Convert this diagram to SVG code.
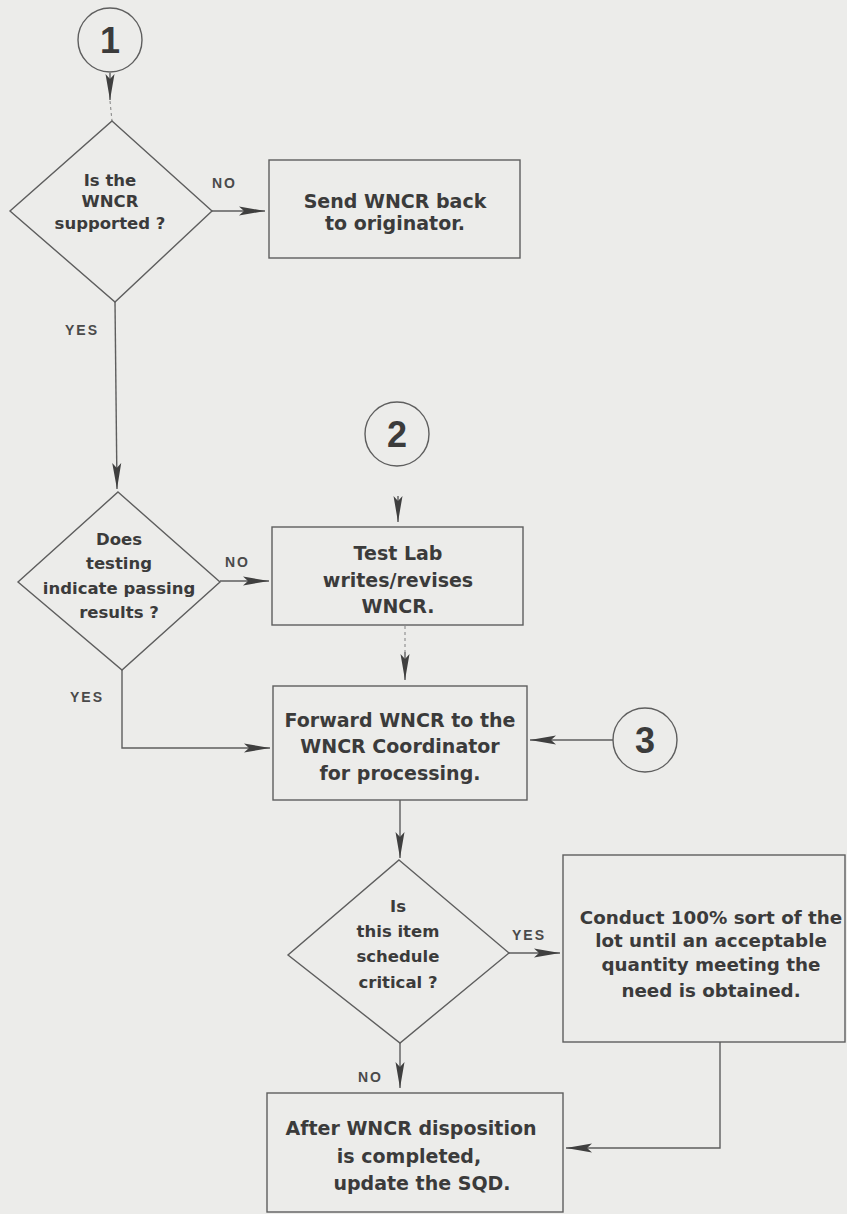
<svg xmlns="http://www.w3.org/2000/svg" width="847" height="1214" viewBox="0 0 847 1214">
<style>
.bg{fill:#ececea}
.shape{fill:none;stroke:#5e5e5e;stroke-width:1.4}
.conn{fill:none;stroke:#5e5e5e;stroke-width:1.4}
.faint{fill:none;stroke:#8a8a8a;stroke-width:1.1;stroke-dasharray:3 3}
.bt{font-family:"DejaVu Sans",sans-serif;font-weight:bold;font-size:19px;fill:#3b3b3b;text-anchor:middle}
.bts{font-size:18.3px}
.dt{font-family:"DejaVu Sans",sans-serif;font-weight:bold;font-size:16.5px;fill:#3b3b3b;text-anchor:middle}
.num{font-family:"Liberation Sans",Arial,sans-serif;font-weight:bold;font-size:36px;fill:#3b3b3b;text-anchor:middle}
.lbl{font-family:"Liberation Sans",Arial,sans-serif;font-weight:bold;font-size:14px;fill:#4a4a4a;letter-spacing:2px}
</style>
<defs>
<marker id="ah" viewBox="0 0 26 10" refX="26" refY="5" markerWidth="26" markerHeight="10" markerUnits="userSpaceOnUse" orient="auto">
<path d="M0,0.5 L26,5 L0,9.5 L5,5 Z" fill="#3f3f3f"/>
</marker>
</defs>
<rect class="bg" x="0" y="0" width="847" height="1214"/>

<g id="connectors">
<path class="conn" d="M110,73 L110,100" marker-end="url(#ah)"/>
<path class="faint" d="M110,101 L112,121"/>
<path class="conn" d="M212,211 L265,211" marker-end="url(#ah)"/>
<path class="conn" d="M115,302 L117,489" marker-end="url(#ah)"/>
<path class="conn" d="M220,581 L269,581" marker-end="url(#ah)"/>
<path class="conn" d="M398,496 L398,522" marker-end="url(#ah)"/>
<path class="faint" d="M405,626 L405,652"/>
<path class="conn" d="M405,652 L405,680" marker-end="url(#ah)"/>
<path class="conn" d="M122,670 L122,748 L270,748" marker-end="url(#ah)"/>
<path class="conn" d="M613,740 L530,740" marker-end="url(#ah)"/>
<path class="conn" d="M400,800 L400,858" marker-end="url(#ah)"/>
<path class="conn" d="M509,953 L560,953" marker-end="url(#ah)"/>
<path class="conn" d="M400,1043 L400,1088" marker-end="url(#ah)"/>
<path class="conn" d="M720,1042 L720,1148 L566,1148" marker-end="url(#ah)"/>
</g>

<g id="c1">
<circle class="shape" cx="110" cy="40" r="32"/>
<text class="num" x="110" y="53">1</text>
</g>

<g id="d1">
<polygon class="shape" points="112,121 212,211 115,302 10,211"/>
<text class="dt" x="110" y="186">Is the</text>
<text class="dt" x="110" y="207">WNCR</text>
<text class="dt" x="110" y="229">supported ?</text>
</g>
<text class="lbl" x="212" y="188">NO</text>
<text class="lbl" x="65" y="335">YES</text>

<g id="b_send">
<rect class="shape" x="269" y="160" width="251" height="98"/>
<text class="bt" x="395" y="208">Send WNCR back</text>
<text class="bt" x="395" y="230">to originator.</text>
</g>

<g id="c2">
<circle class="shape" cx="397" cy="434" r="32"/>
<text class="num" x="397" y="447">2</text>
</g>

<g id="d2">
<polygon class="shape" points="118,492 220,582 122,670 18,582"/>
<text class="dt" x="119" y="545">Does</text>
<text class="dt" x="119" y="569">testing</text>
<text class="dt" x="119" y="594">indicate passing</text>
<text class="dt" x="119" y="618">results ?</text>
</g>
<text class="lbl" x="225" y="567">NO</text>
<text class="lbl" x="70" y="702">YES</text>

<g id="b_testlab">
<rect class="shape" x="272" y="527" width="251" height="98"/>
<text class="bt" x="398" y="560">Test Lab</text>
<text class="bt" x="398" y="587">writes/revises</text>
<text class="bt" x="398" y="613">WNCR.</text>
</g>

<g id="b_forward">
<rect class="shape" x="273" y="686" width="254" height="114"/>
<text class="bt" x="400" y="727">Forward WNCR to the</text>
<text class="bt" x="400" y="753">WNCR Coordinator</text>
<text class="bt" x="400" y="780">for processing.</text>
</g>

<g id="c3">
<circle class="shape" cx="645" cy="740" r="32"/>
<text class="num" x="645" y="753">3</text>
</g>

<g id="d3">
<polygon class="shape" points="399,860 509,953 400,1043 288,955"/>
<text class="dt" x="398" y="912">Is</text>
<text class="dt" x="398" y="937">this item</text>
<text class="dt" x="398" y="962">schedule</text>
<text class="dt" x="398" y="988">critical ?</text>
</g>
<text class="lbl" x="512" y="940">YES</text>
<text class="lbl" x="358" y="1082">NO</text>

<g id="b_conduct">
<rect class="shape" x="563" y="855" width="282" height="187"/>
<text class="bt bts" x="711" y="924">Conduct 100% sort of the</text>
<text class="bt bts" x="711" y="947">lot until an acceptable</text>
<text class="bt bts" x="711" y="971">quantity meeting the</text>
<text class="bt bts" x="711" y="997">need is obtained.</text>
</g>

<g id="b_after">
<rect class="shape" x="267" y="1093" width="296" height="119"/>
<text class="bt" x="411" y="1135">After WNCR disposition</text>
<text class="bt" x="409" y="1163">is completed,</text>
<text class="bt" x="422" y="1190">update the SQD.</text>
</g>
</svg>
